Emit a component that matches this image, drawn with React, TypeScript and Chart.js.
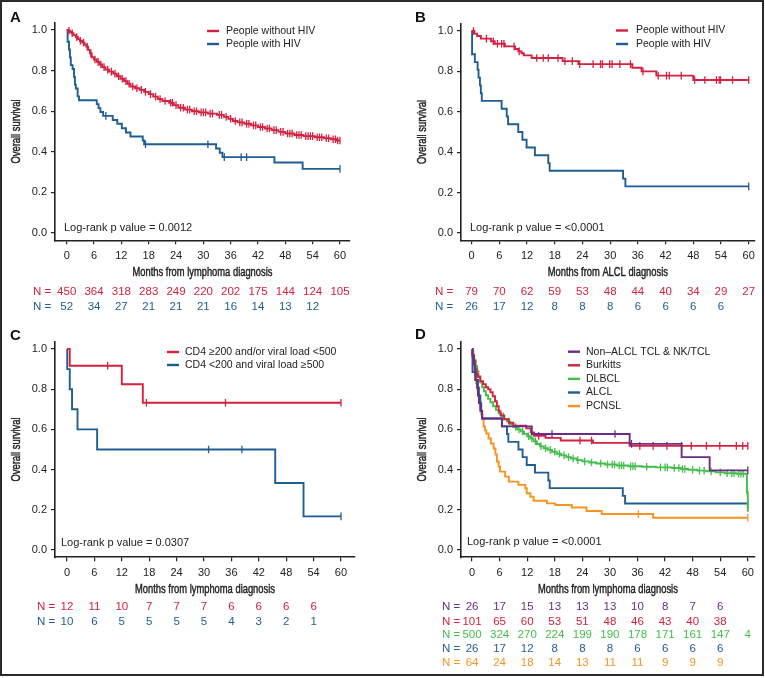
import React, { useEffect, useRef } from 'react';
import { Chart, registerables } from 'chart.js';

Chart.register(...registerables);

// ---------- colours ----------
const RED = '#d3213f';
const BLUE = '#1f5d93';
const GREEN = '#45bd4a';
const PURPLE = '#6a2c86';
const ORANGE = '#f7931e';
const AXIS = '#222222';

// ---------- ticks ----------
const X_TICKS = [0, 6, 12, 18, 24, 30, 36, 42, 48, 54, 60];
const Y_TICKS = [0, 0.2, 0.4, 0.6, 0.8, 1.0];

// ---------- Panel A : all lymphoma, people without / with HIV ----------
const A_NOHIV_T = [0.3, 0.7, 1.1, 1.5, 2.0, 2.5, 2.9, 3.4, 3.9, 4.3, 4.7, 5.1, 5.5, 6.0, 6.6, 7.2, 7.8, 8.5, 9.3, 10.2, 11.0, 11.8, 12.6, 13.3, 14.0, 15.0, 16.0, 17.0, 18.0, 19.0, 20.0, 21.0, 22.5, 23.5, 24.5, 26.0, 27.5, 29.0, 31.0, 33.0, 34.5, 35.5, 36.5, 37.5, 39.0, 40.5, 42.0, 43.5, 45.0, 46.5, 48.0, 50.0, 52.0, 54.5, 56.5, 58.0, 59.2];
const A_NOHIV_S = [0.996, 0.99, 0.984, 0.975, 0.965, 0.955, 0.947, 0.938, 0.928, 0.918, 0.902, 0.885, 0.866, 0.855, 0.843, 0.83, 0.817, 0.805, 0.795, 0.785, 0.772, 0.76, 0.748, 0.735, 0.722, 0.713, 0.705, 0.695, 0.684, 0.672, 0.66, 0.65, 0.642, 0.63, 0.617, 0.608, 0.6, 0.594, 0.588, 0.582, 0.572, 0.562, 0.552, 0.545, 0.538, 0.53, 0.522, 0.515, 0.507, 0.498, 0.49, 0.483, 0.477, 0.472, 0.467, 0.462, 0.456];
const A_NOHIV_C = [0.5, 1.2, 2.2, 3.0, 3.7, 4.5, 5.3, 6.2, 6.9, 7.5, 8.2, 9.0, 9.8, 10.6, 11.4, 12.2, 13.0, 13.7, 14.5, 15.4, 16.4, 17.3, 18.4, 19.5, 20.5, 21.6, 22.8, 23.2, 24.0, 25.0, 25.6, 26.5, 27.0, 28.0, 28.5, 29.5, 30.0, 30.5, 31.5, 32.0, 33.5, 34.0, 35.0, 36.0, 37.0, 38.0, 38.5, 39.5, 40.0, 41.0, 41.5, 42.5, 43.0, 44.0, 44.5, 45.5, 46.0, 47.0, 47.5, 48.5, 49.0, 49.5, 50.5, 51.0, 51.5, 52.5, 53.0, 53.5, 54.0, 55.0, 55.5, 56.0, 57.0, 57.5, 58.5, 59.0, 59.5, 60.0];

const A_HIV_T = [0.2, 0.5, 0.7, 0.9, 1.3, 1.6, 1.8, 2.0, 2.4, 2.7, 6.6, 7.0, 7.4, 8.0, 10.1, 11.1, 12.1, 13.0, 14.0, 16.7, 17.0, 32.8, 33.6, 34.2, 45.6, 51.8];
const A_HIV_S = [0.942, 0.904, 0.865, 0.827, 0.808, 0.769, 0.731, 0.712, 0.673, 0.654, 0.635, 0.615, 0.596, 0.577, 0.557, 0.538, 0.516, 0.495, 0.475, 0.456, 0.437, 0.416, 0.395, 0.374, 0.347, 0.316];
const A_HIV_C = [8.6, 17.3, 31.0, 34.6, 38.3, 39.5, 60.0];

const A_RISK_NOHIV = [450, 364, 318, 283, 249, 220, 202, 175, 144, 124, 105];
const A_RISK_HIV = [52, 34, 27, 21, 21, 21, 16, 14, 13, 12];

// ---------- Panel B : ALCL ----------
const B_NOHIV_T = [0.6, 1.2, 2.0, 4.2, 5.0, 7.2, 9.4, 10.1, 10.8, 11.3, 13.0, 19.7, 23.1, 34.8, 36.8, 40.0, 48.0];
const B_NOHIV_S = [0.987, 0.975, 0.962, 0.949, 0.937, 0.924, 0.911, 0.899, 0.89, 0.879, 0.866, 0.851, 0.836, 0.818, 0.8, 0.779, 0.757];
const B_NOHIV_C = [0.4, 3.2, 4.7, 5.6, 6.5, 7.0, 9.2, 10.3, 14.1, 15.5, 16.6, 18.7, 20.2, 21.8, 23.4, 26.3, 27.9, 28.3, 29.9, 30.4, 32.1, 34.4, 37.1, 40.4, 42.2, 42.8, 45.4, 48.3, 50.5, 53.0, 53.6, 53.9, 56.5, 60.0];

const B_HIV_T = [0.1, 0.7, 1.3, 1.5, 1.8, 2.0, 2.2, 6.5, 7.6, 7.9, 10.1, 11.0, 11.9, 13.7, 16.6, 16.9, 32.8, 33.3];
const B_HIV_S = [0.885, 0.846, 0.808, 0.769, 0.731, 0.692, 0.654, 0.615, 0.577, 0.538, 0.5, 0.462, 0.423, 0.385, 0.346, 0.308, 0.269, 0.231];
const B_HIV_C = [60.0];

const B_RISK_NOHIV = [79, 70, 62, 59, 53, 48, 44, 40, 34, 29, 27];
const B_RISK_HIV = [26, 17, 12, 8, 8, 8, 6, 6, 6, 6];

// ---------- Panel C : CD4 / viral load ----------
const C_HIGH_T = [0.6, 12.0, 16.6];
const C_HIGH_S = [0.917, 0.825, 0.733];
const C_HIGH_C = [8.9, 17.4, 34.7, 60.0];

const C_LOW_T = [0.05, 0.6, 1.1, 2.3, 6.6, 45.6, 51.8];
const C_LOW_S = [0.9, 0.8, 0.7, 0.6, 0.5, 0.333, 0.167];
const C_LOW_C = [31.0, 38.3, 60.0];

const C_RISK_HIGH = [12, 11, 10, 7, 7, 7, 6, 6, 6, 6];
const C_RISK_LOW = [10, 6, 5, 5, 5, 5, 4, 3, 2, 1];

// ---------- Panel D : subtypes among people with HIV ----------
const D_TCL_T = [0.1, 0.4, 0.6, 0.8, 1.1, 1.3, 1.5, 1.8, 2.2, 6.5, 13.0, 34.3, 45.6, 51.7];
const D_TCL_S = [0.962, 0.923, 0.885, 0.846, 0.808, 0.769, 0.731, 0.692, 0.654, 0.615, 0.577, 0.528, 0.462, 0.396];
const D_TCL_C = [17.4, 31.1, 34.7, 60.0];

const D_BURKITT_T = [0.1, 0.4, 0.7, 1.0, 1.3, 1.8, 2.4, 3.0, 3.5, 4.0, 4.5, 5.0, 5.4, 5.8, 6.2, 7.0, 8.0, 9.0, 11.8, 12.8, 13.5, 16.0, 19.3, 26.3, 34.3];
const D_BURKITT_S = [0.97, 0.94, 0.9, 0.875, 0.86, 0.84, 0.825, 0.81, 0.8, 0.785, 0.765, 0.74, 0.715, 0.69, 0.67, 0.65, 0.633, 0.618, 0.605, 0.585, 0.568, 0.558, 0.545, 0.533, 0.518];
const D_BURKITT_C = [14.5, 23.5, 26.0, 36.5, 39.4, 42.4, 45.6, 47.7, 51.0, 53.9, 57.5, 58.9, 60.0];

const D_DLBCL_T = [0.1, 0.3, 0.5, 0.8, 1.1, 1.4, 1.8, 2.2, 2.6, 3.0, 3.5, 4.0, 4.6, 5.2, 5.8, 6.4, 7.0, 7.6, 8.3, 9.0, 9.8, 10.6, 11.3, 12.0, 12.7, 13.4, 14.1, 14.8, 15.6, 16.5, 17.4, 18.4, 19.4, 20.5, 21.5, 22.8, 24.0, 25.5, 27.0, 29.0, 31.5, 34.0, 37.0, 40.0, 43.5, 45.5, 47.0, 49.0, 51.0, 53.0, 55.0, 57.5, 59.8, 60.0];
const D_DLBCL_S = [0.985, 0.965, 0.945, 0.915, 0.89, 0.865, 0.835, 0.81, 0.79, 0.77, 0.752, 0.735, 0.715, 0.697, 0.68, 0.665, 0.652, 0.64, 0.625, 0.612, 0.6, 0.59, 0.578, 0.566, 0.555, 0.541, 0.527, 0.516, 0.506, 0.498, 0.489, 0.479, 0.471, 0.462, 0.455, 0.447, 0.441, 0.435, 0.43, 0.425, 0.42, 0.417, 0.414, 0.411, 0.408, 0.403, 0.399, 0.395, 0.391, 0.386, 0.382, 0.379, 0.287, 0.19];
const D_DLBCL_C = [6.8, 8.0, 9.5, 10.2, 11.0, 12.3, 13.0, 13.8, 15.0, 16.0, 17.0, 18.0, 19.0, 20.0, 21.0, 22.0, 23.0, 24.5, 26.0, 28.0, 29.5, 30.5, 31.0, 32.0, 32.5, 33.0, 34.5, 35.0, 35.5, 38.0, 41.0, 42.0, 42.5, 44.0, 45.0, 45.8, 46.3, 48.0, 49.5, 50.5, 52.0, 54.0, 55.5, 56.5, 57.0, 58.0, 58.5, 59.0, 59.9];

const D_ALCL_T = B_HIV_T;
const D_ALCL_S = B_HIV_S;
const D_ALCL_C = B_HIV_C;

const D_PCNSL_T = [0.1, 0.3, 0.6, 0.9, 1.1, 1.3, 1.5, 1.8, 2.0, 2.2, 2.5, 2.8, 3.1, 3.6, 4.1, 4.7, 5.1, 5.4, 5.8, 6.1, 7.2, 8.0, 10.1, 11.6, 11.9, 12.7, 13.4, 16.3, 18.1, 21.7, 24.9, 28.2, 39.4];
const D_PCNSL_S = [0.97, 0.93, 0.87, 0.83, 0.8, 0.77, 0.745, 0.7, 0.675, 0.655, 0.615, 0.595, 0.58, 0.555, 0.53, 0.505, 0.475, 0.44, 0.415, 0.39, 0.365, 0.34, 0.324, 0.307, 0.282, 0.265, 0.245, 0.232, 0.224, 0.211, 0.194, 0.179, 0.16];
const D_PCNSL_C = [36.2, 60.0];

const D_RISK_TCL = [26, 17, 15, 13, 13, 13, 10, 8, 7, 6];
const D_RISK_BURKITT = [101, 65, 60, 53, 51, 48, 46, 43, 40, 38];
const D_RISK_DLBCL = [500, 324, 270, 224, 199, 190, 178, 171, 161, 147, 4];
const D_RISK_ALCL = [26, 17, 12, 8, 8, 8, 6, 6, 6, 6];
const D_RISK_PCNSL = [64, 24, 18, 14, 13, 11, 11, 9, 9, 9];

// ---------- helpers ----------
type Curve = { label: string; color: string; T: number[]; S: number[]; C: number[]; risk: number[] };

function survAt(T: number[], S: number[], t: number) {
  let s = 1;
  for (let i = 0; i < T.length; i++) if (T[i] <= t) s = S[i];
  return s;
}

function buildKM(T: number[], S: number[], C: number[]) {
  const marks = C.map((c) => ({ x: c, y: survAt(T, S, c) }));
  const pts = [...T.map((t, i) => ({ x: t, y: S[i] })), ...marks].sort((a, b) => a.x - b.x);
  return { line: [{ x: 0, y: 1 }, ...pts], marks };
}

const SANS = "'Liberation Sans', Arial, Helvetica, sans-serif";

type Layout = {
  left: number; top: number; w: number; h: number;
  padLeft: number; areaTop: number; areaBottom: number; areaRight: number;
  xMin: number; xMax: number;
  letterX: number; letterY: number;
  legX: number; legTextX: number; legY: number; legGap: number;
  pX: number; pY: number;
  nX: number; riskY: number[];
};

type Spec = { letter: string; xTitle: string; pText: string; curves: Curve[]; L: Layout };

const Y_AXIS_W = 55;
const X_AXIS_H = 39;

const SPECS: Spec[] = [
  {
    letter: 'A',
    xTitle: 'Months from lymphoma diagnosis',
    pText: 'Log-rank p value = 0.0012',
    curves: [
      { label: 'People without HIV', color: RED, T: A_NOHIV_T, S: A_NOHIV_S, C: A_NOHIV_C, risk: A_RISK_NOHIV },
      { label: 'People with HIV', color: BLUE, T: A_HIV_T, S: A_HIV_S, C: A_HIV_C, risk: A_RISK_HIV },
    ],
    L: { left: 0, top: 0, w: 380, h: 330, padLeft: 0, areaTop: 22.7, areaBottom: 240.3, areaRight: 350, xMin: -2.57, xMax: 62.2,
      letterX: 10, letterY: 22, legX: 207, legTextX: 226, legY: 31, legGap: 13, pX: 64, pY: 228, nX: 33, riskY: [292, 307] },
  },
  {
    letter: 'B',
    xTitle: 'Months from ALCL diagnosis',
    pText: 'Log-rank p value = <0.0001',
    curves: [
      { label: 'People without HIV', color: RED, T: B_NOHIV_T, S: B_NOHIV_S, C: B_NOHIV_C, risk: B_RISK_NOHIV },
      { label: 'People with HIV', color: BLUE, T: B_HIV_T, S: B_HIV_S, C: B_HIV_C, risk: B_RISK_HIV },
    ],
    L: { left: 380, top: 0, w: 380, h: 330, padLeft: 26, areaTop: 23.7, areaBottom: 240.3, areaRight: 375, xMin: -2.3, xMax: 61.3,
      letterX: 35, letterY: 22, legX: 236, legTextX: 256, legY: 30.5, legGap: 13.5, pX: 90, pY: 228, nX: 55, riskY: [292, 307] },
  },
  {
    letter: 'C',
    xTitle: 'Months from lymphoma diagnosis',
    pText: 'Log-rank p value = 0.0307',
    curves: [
      { label: 'CD4 \u2265200 and/or viral load <500', color: RED, T: C_HIGH_T, S: C_HIGH_S, C: C_HIGH_C, risk: C_RISK_HIGH },
      { label: 'CD4 <200 and viral load \u2265500', color: BLUE, T: C_LOW_T, S: C_LOW_S, C: C_LOW_C, risk: C_RISK_LOW },
    ],
    L: { left: 0, top: 325, w: 380, h: 350, padLeft: 0, areaTop: 16.8, areaBottom: 232.2, areaRight: 355, xMin: -2.63, xMax: 63.07,
      letterX: 10, letterY: 15, legX: 167, legTextX: 185, legY: 27, legGap: 13, pX: 61, pY: 218.3, nX: 37, riskY: [282, 297] },
  },
  {
    letter: 'D',
    xTitle: 'Months from lymphoma diagnosis',
    pText: 'Log-rank p value = <0.0001',
    curves: [
      { label: 'Non\u2013ALCL TCL & NK/TCL', color: PURPLE, T: D_TCL_T, S: D_TCL_S, C: D_TCL_C, risk: D_RISK_TCL },
      { label: 'Burkitts', color: RED, T: D_BURKITT_T, S: D_BURKITT_S, C: D_BURKITT_C, risk: D_RISK_BURKITT },
      { label: 'DLBCL', color: GREEN, T: D_DLBCL_T, S: D_DLBCL_S, C: D_DLBCL_C, risk: D_RISK_DLBCL },
      { label: 'ALCL', color: BLUE, T: D_ALCL_T, S: D_ALCL_S, C: D_ALCL_C, risk: D_RISK_ALCL },
      { label: 'PCNSL', color: ORANGE, T: D_PCNSL_T, S: D_PCNSL_S, C: D_PCNSL_C, risk: D_RISK_PCNSL },
    ],
    L: { left: 380, top: 325, w: 380, h: 350, padLeft: 26, areaTop: 16.8, areaBottom: 232.2, areaRight: 375, xMin: -2.4, xMax: 61.5,
      letterX: 35, letterY: 14, legX: 188, legTextX: 206, legY: 26.7, legGap: 13.6, pX: 87, pY: 217.3, nX: 62, riskY: [282, 297, 310, 324, 338] },
  },
];

// condensed axis-title text (horizontal compression of a regular sans face)
const TITLE_FONT = `13px ${SANS}`;
const TITLE_SQUEEZE = 0.72;

function drawTitle(ctx: CanvasRenderingContext2D, text: string) {
  ctx.scale(TITLE_SQUEEZE, 1);
  ctx.fillText(text, 0, 0);
  ctx.lineWidth = 0.45;
  ctx.strokeStyle = AXIS;
  ctx.strokeText(text, 0, 0);
}

function makeExtras(spec: Spec) {
  return {
    id: 'kmExtras' + spec.letter,
    afterDraw(chart: any) {
      const { ctx, chartArea } = chart;
      const L = spec.L;
      const xs = chart.scales.x;
      ctx.save();
      // panel letter
      ctx.fillStyle = '#111';
      ctx.font = `bold 15px ${SANS}`;
      ctx.textAlign = 'left';
      ctx.textBaseline = 'alphabetic';
      ctx.fillText(spec.letter, L.letterX, L.letterY);

      // axis titles
      ctx.fillStyle = AXIS;
      ctx.font = TITLE_FONT;
      ctx.textAlign = 'center';
      ctx.textBaseline = 'middle';
      ctx.save();
      ctx.translate((chartArea.left + chartArea.right) / 2, chartArea.bottom + 32);
      drawTitle(ctx, spec.xTitle);
      ctx.restore();
      ctx.save();
      ctx.translate(L.padLeft + 16, (chartArea.top + chartArea.bottom) / 2);
      ctx.rotate(-Math.PI / 2);
      drawTitle(ctx, 'Overall survival');
      ctx.restore();

      // legend
      ctx.textAlign = 'left';
      ctx.font = `10.5px ${SANS}`;
      ctx.textBaseline = 'middle';
      spec.curves.forEach((c, i) => {
        const y = L.legY + i * L.legGap;
        ctx.strokeStyle = c.color;
        ctx.lineWidth = 2.4;
        ctx.beginPath();
        ctx.moveTo(L.legX, y);
        ctx.lineTo(L.legX + 12, y);
        ctx.stroke();
        ctx.fillStyle = '#222';
        ctx.fillText(c.label, L.legTextX, y);
      });
      // p value
      ctx.font = `11px ${SANS}`;
      ctx.fillStyle = '#222';
      ctx.fillText(spec.pText, L.pX, L.pY);
      // numbers at risk
      ctx.font = `11.5px ${SANS}`;
      spec.curves.forEach((c, i) => {
        const y = L.riskY[i];
        ctx.fillStyle = c.color;
        ctx.textAlign = 'left';
        ctx.fillText('N =', L.nX, y);
        ctx.textAlign = 'center';
        c.risk.forEach((v, j) => {
          ctx.fillText(String(v), xs.getPixelForValue(X_TICKS[j]), y);
        });
      });
      ctx.restore();
    },
  };
}

function Panel({ spec }: { spec: Spec }) {
  const ref = useRef<HTMLCanvasElement>(null);
  useEffect(() => {
    const L = spec.L;
    const datasets: any[] = [];
    spec.curves.forEach((c) => {
      const km = buildKM(c.T, c.S, c.C);
      datasets.push({
        label: c.label,
        data: km.line,
        borderColor: c.color,
        backgroundColor: c.color,
        borderWidth: 1.9,
        stepped: true,
        pointRadius: 0,
        fill: false,
      });
      datasets.push({
        label: c.label + ' (censored)',
        data: km.marks,
        showLine: false,
        borderColor: c.color,
        backgroundColor: c.color,
        pointBorderColor: c.color,
        pointStyle: 'line',
        rotation: 90,
        pointRadius: 3.8,
        pointBorderWidth: 1.3,
      });
    });
    const chart = new Chart(ref.current as HTMLCanvasElement, {
      type: 'line',
      data: { datasets },
      options: {
        animation: false,
        responsive: false,
        events: [],
        layout: {
          padding: {
            left: L.padLeft,
            top: L.areaTop,
            right: L.w - L.areaRight,
            bottom: L.h - L.areaBottom - X_AXIS_H,
          },
        },
        plugins: { legend: { display: false }, tooltip: { enabled: false } },
        scales: {
          x: {
            type: 'linear',
            min: L.xMin,
            max: L.xMax,
            afterBuildTicks: (s: any) => {
              s.ticks = X_TICKS.map((v) => ({ value: v }));
            },
            afterFit: (s: any) => {
              s.height = X_AXIS_H;
            },
            ticks: { font: { family: SANS, size: 11 }, color: AXIS, padding: 5, maxRotation: 0, autoSkip: false },
            grid: { display: true, drawOnChartArea: false, drawTicks: true, tickLength: 4, color: AXIS, lineWidth: 1.2 },
            border: { display: true, color: AXIS, width: 1.6 },
            title: { display: false },
          },
          y: {
            type: 'linear',
            min: -0.036,
            max: 1.036,
            afterBuildTicks: (s: any) => {
              s.ticks = Y_TICKS.map((v) => ({ value: v }));
            },
            afterFit: (s: any) => {
              s.width = Y_AXIS_W;
            },
            ticks: { font: { family: SANS, size: 11 }, color: AXIS, padding: 4, callback: (v: any) => Number(v).toFixed(1) },
            grid: { display: true, drawOnChartArea: false, drawTicks: true, tickLength: 4, color: AXIS, lineWidth: 1.2 },
            border: { display: true, color: AXIS, width: 1.6 },
            title: { display: false },
          },
        },
      },
      plugins: [makeExtras(spec)],
    } as any);
    return () => chart.destroy();
  }, [spec]);
  const L = spec.L;
  return (
    <canvas
      ref={ref}
      width={L.w}
      height={L.h}
      style={{ position: 'absolute', left: L.left, top: L.top, width: L.w, height: L.h }}
    />
  );
}

export default function App() {
  return (
    <div style={{ position: 'absolute', left: 0, top: 0, width: 765, height: 678, background: '#fff', overflow: 'hidden' }}>
      {SPECS.map((s) => (
        <Panel key={s.letter} spec={s} />
      ))}
      <div
        style={{
          position: 'absolute',
          left: 0,
          top: 0,
          width: 764,
          height: 676,
          border: '2px solid #2a2a2a',
          boxSizing: 'border-box',
          pointerEvents: 'none',
        }}
      />
    </div>
  );
}
